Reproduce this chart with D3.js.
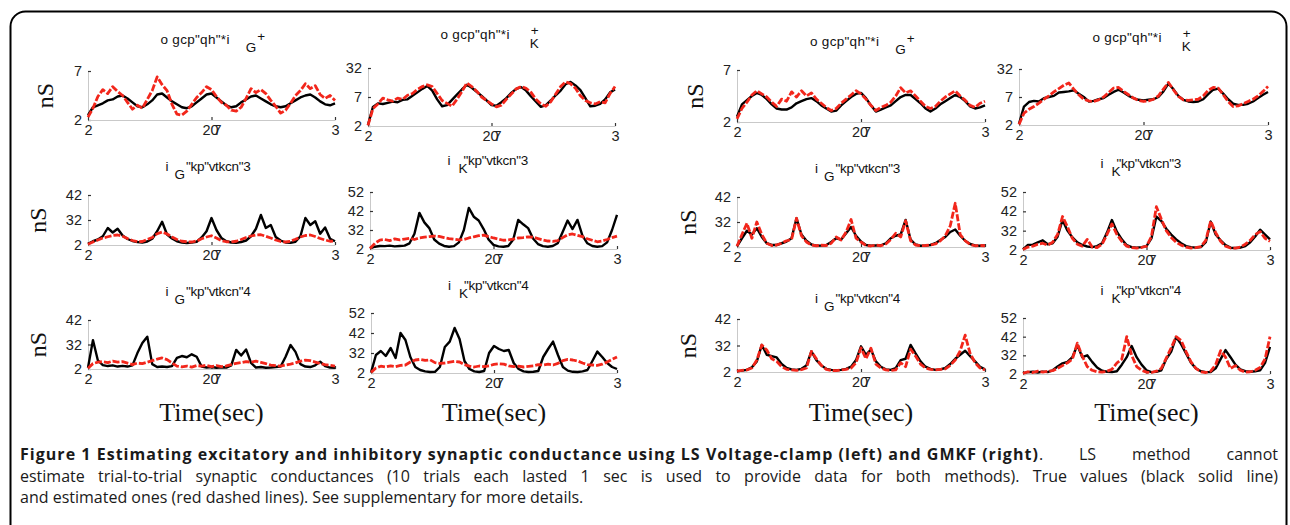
<!DOCTYPE html>
<html><head><meta charset="utf-8">
<script src="https://cdn.jsdelivr.net/npm/d3@7"></script>
<style>
html,body{margin:0;padding:0;background:#fff;}
body{width:1290px;height:525px;overflow:hidden;position:relative;}
svg{position:absolute;left:0;top:0;}
#cap{position:absolute;left:20px;top:444px;width:1258px;font-family:"Open Sans",sans-serif;font-size:16px;line-height:21.5px;color:#1a1a1a;}
#cap .j{text-align:justify;text-align-last:justify;}
#cap .l1{display:flex;white-space:nowrap;}
#cap .l1 b{flex:none;letter-spacing:1.03px;}
#cap .l1 span{flex:1;text-align:justify;text-align-last:justify;white-space:normal;}
</style></head><body>
<script>
// ---------------- DATA ----------------
// sample times (sec), 51 samples over 1 s
const timeSec = d3.range(51).map(i => i / 50);
const xTickValues = [0, 0.5, 1];
const xTickLabels = ["2", "207", "3"];

const yTicksMeanGE = [0, 5],        yLabelsMeanGE = ["2", "7"];
const yTicksMeanGI = [0, 5, 10],    yLabelsMeanGI = ["2", "7", "32"];
const yTicksTrialGE = [0, 10, 20],  yLabelsTrialGE = ["2", "32", "42"];
const yTicksTrialGI = [0, 10, 20, 30], yLabelsTrialGI = ["2", "32", "42", "52"];

// LS voltage clamp (left)
const lsMeanGE_true = [0.5,1.3,1.5,1.7,2.0,2.1,2.4,2.5,2.2,1.8,1.4,1.3,1.6,2.0,2.6,2.7,2.3,1.9,1.6,1.3,1.2,1.4,1.8,2.2,2.6,2.7,2.3,1.9,1.5,1.3,1.4,1.8,2.1,2.4,2.5,2.2,1.9,1.6,1.4,1.3,1.4,1.7,2.0,2.3,2.5,2.6,2.3,1.9,1.6,1.5,1.7];
const lsMeanGE_est  = [0.3,1.2,2.4,3.1,2.7,3.4,2.9,2.5,1.8,1.1,1.5,1.2,2.1,3.0,4.4,3.6,3.0,1.6,0.6,0.5,0.9,1.6,2.3,2.8,3.4,3.1,2.4,1.8,1.5,1.0,0.9,1.3,2.2,3.2,2.8,3.1,2.7,2.0,1.4,0.7,1.0,1.7,2.5,3.0,3.7,3.2,3.5,2.6,2.2,2.5,2.0];
const lsMeanGI_true = [0.2,3.3,3.9,3.8,4.0,4.2,4.1,4.5,4.6,5.2,5.8,6.4,6.9,6.1,4.6,3.4,3.6,4.5,5.4,6.3,7.1,6.6,5.9,5.2,4.4,3.6,3.5,4.1,4.8,5.7,6.4,6.7,6.1,5.1,4.2,3.3,3.6,4.4,5.3,6.1,7.2,7.6,7.0,6.2,4.8,3.4,3.5,3.8,4.6,5.8,6.3];
const lsMeanGI_est  = [0.1,3.0,3.8,4.8,4.5,4.3,4.8,4.6,5.3,5.6,6.3,6.8,7.1,6.8,5.6,4.4,3.9,3.4,4.6,5.9,7.4,6.8,6.0,5.0,4.4,3.8,3.3,3.6,4.6,5.5,6.4,6.8,6.5,5.8,4.6,3.8,3.4,4.2,5.5,6.8,7.6,7.3,6.5,5.2,4.4,4.0,3.8,4.2,4.0,5.6,6.8];
const lsTrial1GE_true = [0.5,1.5,2.2,3.5,6.8,5.0,6.5,3.8,2.4,1.6,1.2,1.0,1.4,2.5,5.5,9.3,4.2,2.6,1.5,1.0,0.8,1.0,1.3,3.0,5.5,10.8,6.0,2.8,1.5,1.0,0.9,1.2,1.8,3.5,6.5,12.0,6.8,8.0,3.2,1.8,1.0,0.9,1.3,3.5,10.8,8.0,9.5,4.5,7.0,2.5,1.5];
const lsTrial1GE_est  = [0.3,1.2,2.0,2.8,3.3,3.8,4.0,3.5,2.6,1.8,1.3,1.4,2.2,3.0,4.5,5.2,4.4,3.2,2.2,1.5,1.3,1.2,1.6,2.5,3.2,3.7,2.8,1.8,1.3,1.2,1.5,2.2,3.0,3.6,4.0,4.1,3.5,2.8,2.0,1.4,1.2,1.5,2.3,3.2,3.8,4.0,3.4,2.6,2.0,1.5,1.6];
const lsTrial1GI_true = [0.3,1.2,1.6,1.5,1.8,1.4,1.6,1.8,3.0,8.0,19.0,14.0,11.0,5.0,2.8,1.6,1.2,1.5,3.5,10.0,21.6,17.0,15.0,10.5,5.0,2.2,1.4,1.2,1.6,5.0,15.3,13.0,11.0,5.5,2.6,1.5,1.2,1.6,3.0,9.0,15.0,10.5,15.3,7.0,3.0,1.6,1.2,1.5,3.5,10.0,18.0];
const lsTrial1GI_est  = [0.3,3.0,4.7,5.0,4.4,5.3,4.8,5.2,5.6,5.0,5.8,6.2,6.5,6.8,6.6,6.0,5.5,5.2,4.8,5.0,5.8,6.4,7.0,7.3,6.5,5.8,5.2,4.6,4.8,5.2,5.8,6.0,6.4,6.2,5.5,4.8,4.2,4.0,4.4,6.0,7.5,7.9,7.2,6.5,5.4,4.6,3.8,4.2,5.0,6.0,6.8];
const lsTrial2GE_true = [0.5,11.8,3.5,1.6,1.2,1.5,1.0,1.3,1.0,1.5,6.5,10.6,13.2,2.0,0.8,1.0,0.8,1.2,4.5,5.3,4.8,6.0,5.0,1.0,0.6,0.8,0.5,0.7,0.6,1.5,7.8,5.5,8.0,2.5,0.6,0.8,0.5,0.6,0.8,1.0,5.0,9.8,7.0,2.0,1.0,0.8,1.5,3.0,1.2,0.6,0.5];
const lsTrial2GE_est  = [0.3,2.2,2.8,3.0,2.6,3.2,2.8,3.0,2.4,1.8,2.4,2.2,2.8,3.4,4.0,4.5,3.8,2.5,1.2,0.9,1.2,0.8,1.4,1.2,1.5,1.0,1.4,1.0,1.3,1.8,2.3,2.6,3.0,2.8,3.2,2.7,2.2,1.6,1.4,1.2,1.6,2.0,2.5,3.2,3.6,3.4,2.8,2.2,1.8,1.5,1.2];
const lsTrial2GI_true = [0.2,9.0,11.0,8.5,12.5,7.5,20.0,16.5,8.0,3.0,1.5,0.8,0.5,0.6,3.0,13.0,15.7,22.5,17.0,6.0,2.0,0.8,0.5,1.0,10.0,13.5,12.0,11.0,11.5,5.0,2.0,0.8,0.5,0.6,1.0,8.0,12.0,15.7,9.0,3.0,1.2,0.6,0.5,0.8,1.5,6.0,10.7,8.0,5.0,3.0,2.0];
const lsTrial2GI_est  = [0.3,2.5,3.4,3.0,3.6,3.2,3.8,4.0,5.5,6.5,6.8,6.3,6.6,5.2,4.8,5.0,5.4,5.8,5.5,4.2,3.4,3.0,3.5,3.2,3.6,4.3,4.6,4.4,3.6,3.2,3.4,3.0,3.3,3.6,4.2,4.0,4.4,4.0,4.8,6.2,6.8,6.5,6.0,5.0,4.2,4.0,3.8,4.4,5.5,6.8,8.0];

// GMKF (right)
const gmMeanGE_true = [0.5,1.7,2.1,2.5,2.8,2.6,2.2,1.7,1.3,1.2,1.2,1.4,1.8,2.0,2.2,2.3,2.0,1.6,1.3,1.0,1.1,1.6,2.0,2.4,2.7,2.8,2.3,1.6,1.0,1.2,1.4,1.6,2.0,2.4,2.6,2.6,2.2,1.8,1.3,1.0,1.3,1.7,2.0,2.3,2.6,2.4,2.0,1.5,1.3,1.4,1.6];
const gmMeanGE_est  = [0.3,1.3,1.9,2.6,3.0,2.7,2.4,1.9,1.5,2.2,2.0,2.9,2.4,3.0,2.5,2.8,2.2,1.8,1.4,1.1,1.3,1.8,2.2,2.6,3.0,2.7,2.2,1.6,1.1,1.4,1.6,1.9,2.5,3.3,2.8,3.0,2.5,2.0,1.5,1.3,1.5,2.0,2.4,2.7,3.0,2.5,2.1,1.6,1.4,1.8,2.0];
const gmMeanGI_true = [0.2,3.3,4.1,4.3,4.2,4.8,5.0,5.2,5.8,5.9,6.0,6.2,5.6,5.0,4.2,4.3,4.6,4.8,5.4,5.9,6.3,5.8,5.2,4.8,4.5,4.4,4.5,4.6,5.0,6.0,7.4,6.4,5.2,4.5,4.2,4.1,4.2,4.6,5.5,6.3,6.5,5.6,4.6,3.8,3.6,3.6,3.8,4.2,4.8,5.4,5.9];
const gmMeanGI_est  = [0.1,2.1,2.8,3.3,3.9,4.6,5.2,5.9,6.5,7.1,7.5,6.4,5.4,4.6,4.3,4.2,4.5,5.0,5.8,6.6,6.7,6.0,5.4,4.8,4.4,4.2,4.3,4.6,5.2,6.4,7.6,6.3,5.1,4.5,4.4,4.5,4.6,5.2,6.2,6.7,6.6,5.4,4.2,3.3,3.4,3.8,4.2,4.6,5.2,6.0,6.9];
const gmTrial1GE_true = [0.3,3.5,6.5,5.0,7.5,4.0,1.5,0.8,0.8,1.5,2.2,3.5,11.5,5.0,2.5,1.0,0.5,0.6,0.8,2.0,3.5,3.0,5.5,8.0,4.5,2.2,0.8,0.5,0.6,0.7,1.5,3.5,4.5,5.0,10.8,3.0,1.0,0.5,0.6,0.8,1.5,2.8,4.0,6.0,7.0,4.5,2.5,1.2,0.6,0.5,0.6];
const gmTrial1GE_est  = [0.3,5.0,9.5,3.5,10.0,5.0,1.5,0.6,0.8,1.5,2.5,3.0,11.5,4.5,2.0,0.8,0.5,0.7,0.6,1.5,4.0,2.8,6.0,11.0,3.5,2.0,0.6,0.4,0.8,0.5,1.2,3.0,5.5,4.0,10.5,2.5,0.8,0.5,0.6,0.8,1.2,2.5,4.5,8.5,17.5,5.0,2.5,1.0,0.5,0.6,0.5];
const gmTrial1GI_true = [0.3,2.6,2.8,4.0,5.0,3.0,3.5,6.9,15.5,10.0,6.5,4.0,2.6,1.8,1.5,2.0,3.5,9.0,15.5,9.5,5.5,2.5,1.5,1.2,1.5,2.0,6.0,17.3,15.0,11.0,8.0,5.5,3.5,2.0,1.5,1.2,1.5,4.0,14.7,8.0,5.0,2.5,1.2,1.0,1.2,2.0,4.0,7.0,10.5,8.0,5.5];
const gmTrial1GI_est  = [0.2,1.5,2.0,3.0,3.5,2.5,4.0,8.0,17.3,12.0,6.0,3.0,2.0,5.5,1.5,1.2,3.0,8.0,13.5,8.0,4.5,2.0,1.2,1.0,1.3,2.0,7.0,22.4,16.0,10.0,6.5,4.0,2.5,1.5,1.0,1.2,1.8,5.0,15.0,9.0,4.5,2.0,1.0,1.0,1.5,3.0,5.0,8.0,9.5,6.0,4.5];
const gmTrial2GE_true = [0.3,0.5,0.8,1.8,4.0,10.2,6.5,6.0,5.5,3.0,1.5,1.0,0.8,1.2,2.5,7.8,4.5,2.5,1.2,0.8,0.6,0.8,1.2,2.0,4.5,9.7,6.5,8.5,4.0,2.0,1.0,0.8,1.5,4.5,5.0,10.2,7.0,4.0,2.0,1.2,0.8,1.0,1.5,3.0,5.0,6.5,8.0,6.0,4.0,2.0,1.0];
const gmTrial2GE_est  = [0.3,0.6,0.8,1.5,4.5,10.2,8.3,5.0,4.0,2.0,1.0,0.8,0.6,0.9,1.5,7.8,5.0,2.5,1.0,0.6,0.5,0.8,1.0,1.5,3.5,9.1,5.0,9.0,3.0,1.5,0.8,0.6,0.8,3.5,2.0,8.6,6.0,3.0,1.5,1.0,0.8,1.0,1.2,2.5,4.5,8.0,13.9,7.0,3.5,1.5,0.8];
const gmTrial2GI_true = [0.5,1.0,1.2,0.8,1.3,1.0,2.0,4.0,5.7,6.5,9.0,15.5,9.0,10.0,6.5,3.5,1.8,1.2,1.0,1.5,5.0,9.0,15.0,9.0,5.0,2.0,1.0,1.2,2.0,8.0,12.0,19.8,16.0,11.0,6.0,3.0,1.5,1.0,1.0,3.0,8.0,12.8,9.0,5.0,2.5,1.5,1.2,1.5,2.0,6.0,14.5];
const gmTrial2GI_est  = [0.3,1.2,0.8,1.5,1.0,1.5,1.8,3.0,4.5,6.0,8.0,16.5,9.5,4.0,2.0,1.2,1.0,1.5,2.5,5.9,8.0,20.0,10.0,4.0,2.0,1.0,0.8,1.5,3.0,8.5,14.0,20.0,18.0,12.0,6.5,3.0,1.2,0.8,1.5,5.0,12.5,9.0,3.0,4.5,2.0,1.0,1.2,2.0,3.5,8.0,20.0];

const titleMain = 'o gcp"qh"*i';
const titleTrialRest = ['"kp"vtkcn"3', '"kp"vtkcn"4'];
const yAxisLabel = "nS";
const xAxisLabel = "Time(sec)";

// ---------------- PANELS (data + layout) ----------------
const meanE = {yMax:5, ticks:yTicksMeanGE, labels:yLabelsMeanGE};
const meanI = {yMax:10, ticks:yTicksMeanGI, labels:yLabelsMeanGI};
const trE = {yMax:20, ticks:yTicksTrialGE, labels:yLabelsTrialGE};
const trI = {yMax:30, ticks:yTicksTrialGI, labels:yLabelsTrialGI};

const panels = [
 {ax:meanE, t:lsMeanGE_true, e:lsMeanGE_est, title:{kind:'mean', sub:'G'}, x0:88, x1:335, yb:120, yt:71, tb:44, ylab:45},
 {ax:meanI, t:lsMeanGI_true, e:lsMeanGI_est, title:{kind:'mean', sub:'K'}, x0:368, x1:615, yb:126, yt:68, tb:39},
 {ax:trE, t:lsTrial1GE_true, e:lsTrial1GE_est, title:{kind:'trial', sub:'G', n:0}, x0:88, x1:335, yb:245, yt:195, tb:171, ylab:38},
 {ax:trI, t:lsTrial1GI_true, e:lsTrial1GI_est, title:{kind:'trial', sub:'K', n:0}, x0:370, x1:617, yb:249, yt:192, tb:165},
 {ax:trE, t:lsTrial2GE_true, e:lsTrial2GE_est, title:{kind:'trial', sub:'G', n:1}, x0:88, x1:335, yb:369, yt:320, tb:296, ylab:38, xlab:true},
 {ax:trI, t:lsTrial2GI_true, e:lsTrial2GI_est, title:{kind:'trial', sub:'K', n:1}, x0:371, x1:617, yb:373, yt:313, tb:290, xlab:true},
 {ax:meanE, t:gmMeanGE_true, e:gmMeanGE_est, title:{kind:'mean', sub:'G'}, x0:737, x1:985, yb:122, yt:70, tb:46, ylab:695},
 {ax:meanI, t:gmMeanGI_true, e:gmMeanGI_est, title:{kind:'mean', sub:'K'}, x0:1019, x1:1268, yb:125, yt:69, tb:42},
 {ax:trE, t:gmTrial1GE_true, e:gmTrial1GE_est, title:{kind:'trial', sub:'G', n:0}, x0:737, x1:985, yb:247, yt:197, tb:173, ylab:688},
 {ax:trI, t:gmTrial1GI_true, e:gmTrial1GI_est, title:{kind:'trial', sub:'K', n:0}, x0:1023, x1:1270, yb:250, yt:192, tb:168},
 {ax:trE, t:gmTrial2GE_true, e:gmTrial2GE_est, title:{kind:'trial', sub:'G', n:1}, x0:737, x1:985, yb:372, yt:319, tb:303, ylab:688, xlab:true},
 {ax:trI, t:gmTrial2GI_true, e:gmTrial2GI_est, title:{kind:'trial', sub:'K', n:1}, x0:1023, x1:1270, yb:374, yt:318, tb:295, xlab:true}
];

const svg = d3.select('body').append('svg').attr('width',1290).attr('height',525);

// figure frame
svg.append('rect').attr('x',10.5).attr('y',11.5).attr('width',1276).attr('height',560)
  .attr('rx',15).attr('fill','none').attr('stroke','#000').attr('stroke-width',2);

const sans = '"Liberation Sans", Arial, Helvetica, sans-serif';
const serif = '"Liberation Serif", "Times New Roman", serif';

panels.forEach(p => {
  const x = d3.scaleLinear().domain([0,1]).range([p.x0, p.x1]);
  const y = d3.scaleLinear().domain([0, p.ax.yMax]).range([p.yb, p.yt]);
  const g = svg.append('g');

  // axes
  const yAxis = d3.axisLeft(y).tickValues(p.ax.ticks)
    .tickFormat((d,i) => p.ax.labels[i]).tickSizeInner(-3).tickSizeOuter(0).tickPadding(6);
  const gy = g.append('g').attr('transform',`translate(${p.x0},0)`).call(yAxis);
  const xAxis = d3.axisBottom(x).tickValues(xTickValues)
    .tickFormat((d,i) => xTickLabels[i]).tickSizeInner(-3).tickSizeOuter(0).tickPadding(5);
  const gx = g.append('g').attr('transform',`translate(0,${p.yb})`).call(xAxis);
  [gx, gy].forEach(a => {
    a.select('.domain').attr('stroke','#c9c9c9').attr('stroke-width',1);
    a.selectAll('.tick line').attr('stroke','#333').attr('stroke-width',1.2);
    a.selectAll('.tick text').attr('fill','#222').style('font-family',sans).style('font-size','14.5px');
  });
  gx.selectAll('.tick text').each(function(d,i){
    if (xTickLabels[i] === '207') {
      const t = d3.select(this); t.text(null);
      t.append('tspan').text('20');
      t.append('tspan').attr('dx',-5).text('7');
    }
  });

  // lines
  const line = d3.line().x((d,i) => x(timeSec[i])).y(d => y(d));
  g.append('path').datum(p.t).attr('d',line).attr('fill','none')
    .attr('stroke','#000').attr('stroke-width',2.4).attr('stroke-linejoin','round');
  g.append('path').datum(p.e).attr('d',line).attr('fill','none')
    .attr('stroke','#f2261b').attr('stroke-width',2.8).attr('stroke-dasharray','7,2')
    .attr('stroke-linejoin','round');

  // title (start-anchored relative to panel centre)
  const cx = (p.x0 + p.x1) / 2;
  const tt = g.append('text').attr('y',p.tb)
    .style('font-family',sans).style('font-size','13.5px').attr('fill','#111');
  if (p.title.kind === 'mean') {
    tt.attr('x', cx - 51);
    tt.append('tspan').attr('letter-spacing','0.3').text(titleMain);
    if (p.title.sub === 'G') {
      tt.append('tspan').attr('letter-spacing','0').attr('dx',16).attr('dy',8).text('G');
      tt.append('tspan').attr('dx',1).attr('dy',-11).text('+');
    } else {
      tt.append('tspan').attr('letter-spacing','0').attr('dx',20).attr('dy',9).text('K');
      tt.append('tspan').attr('dx',-8).attr('dy',-13).text('+');
    }
  } else {
    tt.attr('x', cx - 46);
    tt.append('tspan').text('i');
    tt.append('tspan').attr('dx', p.title.sub==='G'?6:8).attr('dy',8).text(p.title.sub);
    tt.append('tspan').attr('dx', p.title.sub==='G'?1:-4).attr('dy',-8).attr('letter-spacing','-0.3')
      .text(titleTrialRest[p.title.n]);
  }

  if (p.ylab) {
    g.append('text').attr('transform',`translate(${p.ylab},${(p.yb+p.yt)/2}) rotate(-90)`)
      .attr('text-anchor','middle').attr('dy','0.35em')
      .style('font-family',serif).style('font-size','24px').attr('fill','#111').text(yAxisLabel);
  }
  if (p.xlab) {
    g.append('text').attr('x',cx).attr('y',421).attr('text-anchor','middle')
      .style('font-family',serif).style('font-size','26px').attr('fill','#111').text(xAxisLabel);
  }
});

// caption
const cap = d3.select('body').append('div').attr('id','cap');
const l1 = cap.append('div').attr('class','l1');
l1.append('b').text('Figure 1 Estimating excitatory and inhibitory synaptic conductance using LS Voltage-clamp (left) and GMKF (right)');
l1.append('span').text('. LS method cannot');
cap.append('div').attr('class','j').text('estimate trial-to-trial synaptic conductances (10 trials each lasted 1 sec is used to provide data for both methods). True values (black solid line)');
cap.append('div').text('and estimated ones (red dashed lines). See supplementary for more details.');
</script>
</body></html>
